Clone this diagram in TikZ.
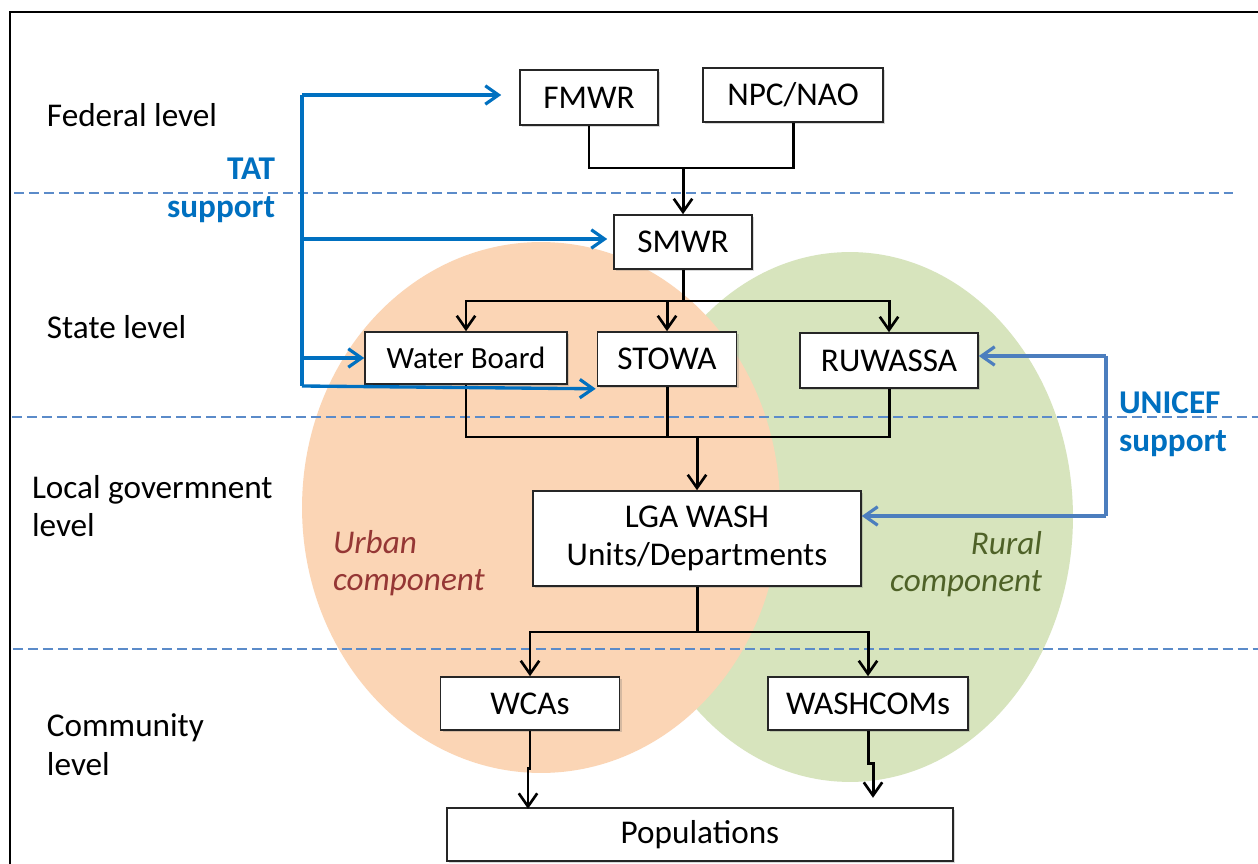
\documentclass[tikz,border=0pt]{standalone}
\usepackage{fontspec}
\setmainfont{Carlito}
\usetikzlibrary{arrows.meta,calc,shadows}
\definecolor{orangefill}{RGB}{251,213,181}
\definecolor{greenfill}{RGB}{215,228,189}
\definecolor{dashc}{RGB}{91,139,201}
\definecolor{tatblue}{RGB}{0,112,192}
\definecolor{unicefline}{RGB}{76,126,190}
\definecolor{urbanc}{RGB}{149,55,53}
\definecolor{ruralc}{RGB}{79,98,40}
\begin{document}
\begin{tikzpicture}[x=0.02cm,y=-0.02cm,
  every node/.style={font=\fontsize{18.9pt}{22pt}\selectfont},
  box/.style={draw=black!85,line width=0.9pt,fill=white,inner sep=0pt,
    drop shadow={shadow xshift=1.2pt,shadow yshift=-1.2pt,opacity=0.25,fill=black!60}},
  conn/.style={draw,line width=1.7pt},
  arr/.style={-{Straight Barb[length=7.5pt,width=10.5pt,line width=1.5pt]}},
  tatline/.style={draw=tatblue,line width=1.9pt},
  unline/.style={draw=unicefline,line width=1.9pt},
  blarr/.style={-{Straight Barb[length=7.5pt,width=10.5pt,line width=1.8pt]}},
  dline/.style={draw=dashc,line width=0.7pt,dash pattern=on 5.7pt off 2.8pt},
  lbl/.style={inner sep=0pt,outer sep=0pt},
]
\useasboundingbox (0,0) rectangle (1258,864);
\fill[white] (0,0) rectangle (1258,864);
\draw[line width=1.5pt] (10,864) -- (10,12) -- (1258,12);

% component ellipses
\fill[greenfill] (850,517) ellipse [x radius=4.46cm, y radius=5.30cm];
\fill[orangefill] (541,507.5) ellipse [x radius=4.78cm, y radius=5.31cm];

% level separators
\draw[dline] (14,193) -- (1233,193);
\draw[dline] (12,417) -- (1258,417);
\draw[dline] (13,649) -- (1258,649);

% boxes
\node[box,minimum width=2.76cm,minimum height=1.10cm] (FMWR) at (589,97.5) {FMWR};
\node[box,minimum width=3.60cm,minimum height=1.08cm] (NPC) at (793,95) {NPC/NAO};
\node[box,minimum width=2.76cm,minimum height=1.08cm] (SMWR) at (683,242) {SMWR};
\node[box,minimum width=4.04cm,minimum height=1.04cm,font=\fontsize{17.6pt}{21pt}\selectfont] (WB) at (466,358) {Water Board};
\node[box,minimum width=2.78cm,minimum height=1.08cm] (STOWA) at (667,359) {STOWA};
\node[box,minimum width=3.56cm,minimum height=1.10cm] (RU) at (889,360.5) {RUWASSA};
\node[box,minimum width=6.56cm,minimum height=1.90cm,align=center] (LGA) at (697,538.5) {LGA WASH\\Units/Departments};
\node[box,minimum width=3.58cm,minimum height=1.06cm] (WCA) at (530,703.5) {WCAs};
\node[box,minimum width=4.00cm,minimum height=1.06cm] (WASH) at (868,703.5) {WASHCOMs};
\node[box,minimum width=10.12cm,minimum height=1.06cm] (POP) at (700,834.5) {Populations};

% black connectors
\coordinate (j1) at (683,168);
\draw[conn] (FMWR.south) |- (j1);
\draw[conn] (NPC.south) |- (j1);
\draw[conn,arr] (j1) -- (SMWR.north);

\coordinate (j2) at (683,301);
\draw[conn] (SMWR.south) -- (j2);
\draw[conn,arr] (j2) -| (WB.north);
\draw[conn,arr] (j2) -| (STOWA.north);
\draw[conn,arr] (j2) -| (RU.north);

\coordinate (j3) at (697,437);
\draw[conn] (WB.south) |- (j3);
\draw[conn] (STOWA.south) |- (j3);
\draw[conn] (RU.south) |- (j3);
\draw[conn,arr] (j3) -- (LGA.north);

\coordinate (j4) at (697,632);
\draw[conn] (LGA.south) -- (j4);
\draw[conn,arr] (j4) -| (WCA.north);
\draw[conn,arr] (j4) -| (WASH.north);

\draw[conn,arr] (WCA.south) -- ++(0,38) -- ++(-2,0) -- ++(0,40);
\draw[conn,arr] (WASH.south) -- ++(0,33) -- ++(5,0) -- ++(0,34);

% TAT support
\coordinate (tTop) at (302,95);
\coordinate (tS) at (302,239);
\coordinate (tW) at (302,358);
\coordinate (tBot) at (302,386);
\draw[tatline,line join=miter] (tTop) -- (tBot);
\draw[tatline,blarr] (tTop) -- ($(tTop -| FMWR.west)+(-18,0)$);
\draw[tatline,blarr] (tS) -- ($(tS -| SMWR.west)+(-6,0)$);
\draw[tatline,blarr] (tW) -- (WB.west);
\draw[tatline,blarr] (tBot) -- ($(STOWA.south west)+(-1,2)$);
\node[lbl,anchor=base east,align=right,text=tatblue,font=\fontsize{18.9pt}{22pt}\selectfont\bfseries] (tat) at (275,218) {TAT\\support};

% UNICEF support
\coordinate (u1) at (1106,356);
\coordinate (u2) at (1106,516);
\draw[unline,blarr] (u1) -- ($(u1 -| RU.east)$);
\draw[unline,line join=miter] (u1) -- (u2);
\draw[unline,blarr] (u2) -- ($(u2 -| LGA.east)$);
\node[lbl,anchor=base west,align=left,text=tatblue,font=\fontsize{18.9pt}{22pt}\selectfont\bfseries] (unicef) at (1119,452) {UNICEF\\support};

% level labels
\node[lbl,anchor=base west] (fed) at (47,127) {Federal level};
\node[lbl,anchor=base west] (state) at (47,339) {State level};
\node[lbl,anchor=base west,align=left] (local) at (32,537) {Local govermnent\\level};
\node[lbl,anchor=base west,align=left] (comm) at (47,775) {Community\\level};

% component labels
\node[lbl,anchor=base west,align=left,text=urbanc,font=\fontsize{18.9pt}{21.5pt}\selectfont\itshape] (urban) at (333,591) {Urban\\component};
\node[lbl,anchor=base east,align=right,text=ruralc,font=\fontsize{18.9pt}{21.5pt}\selectfont\itshape] (rural) at (1042,592) {Rural\\component};
\end{tikzpicture}
\end{document}
